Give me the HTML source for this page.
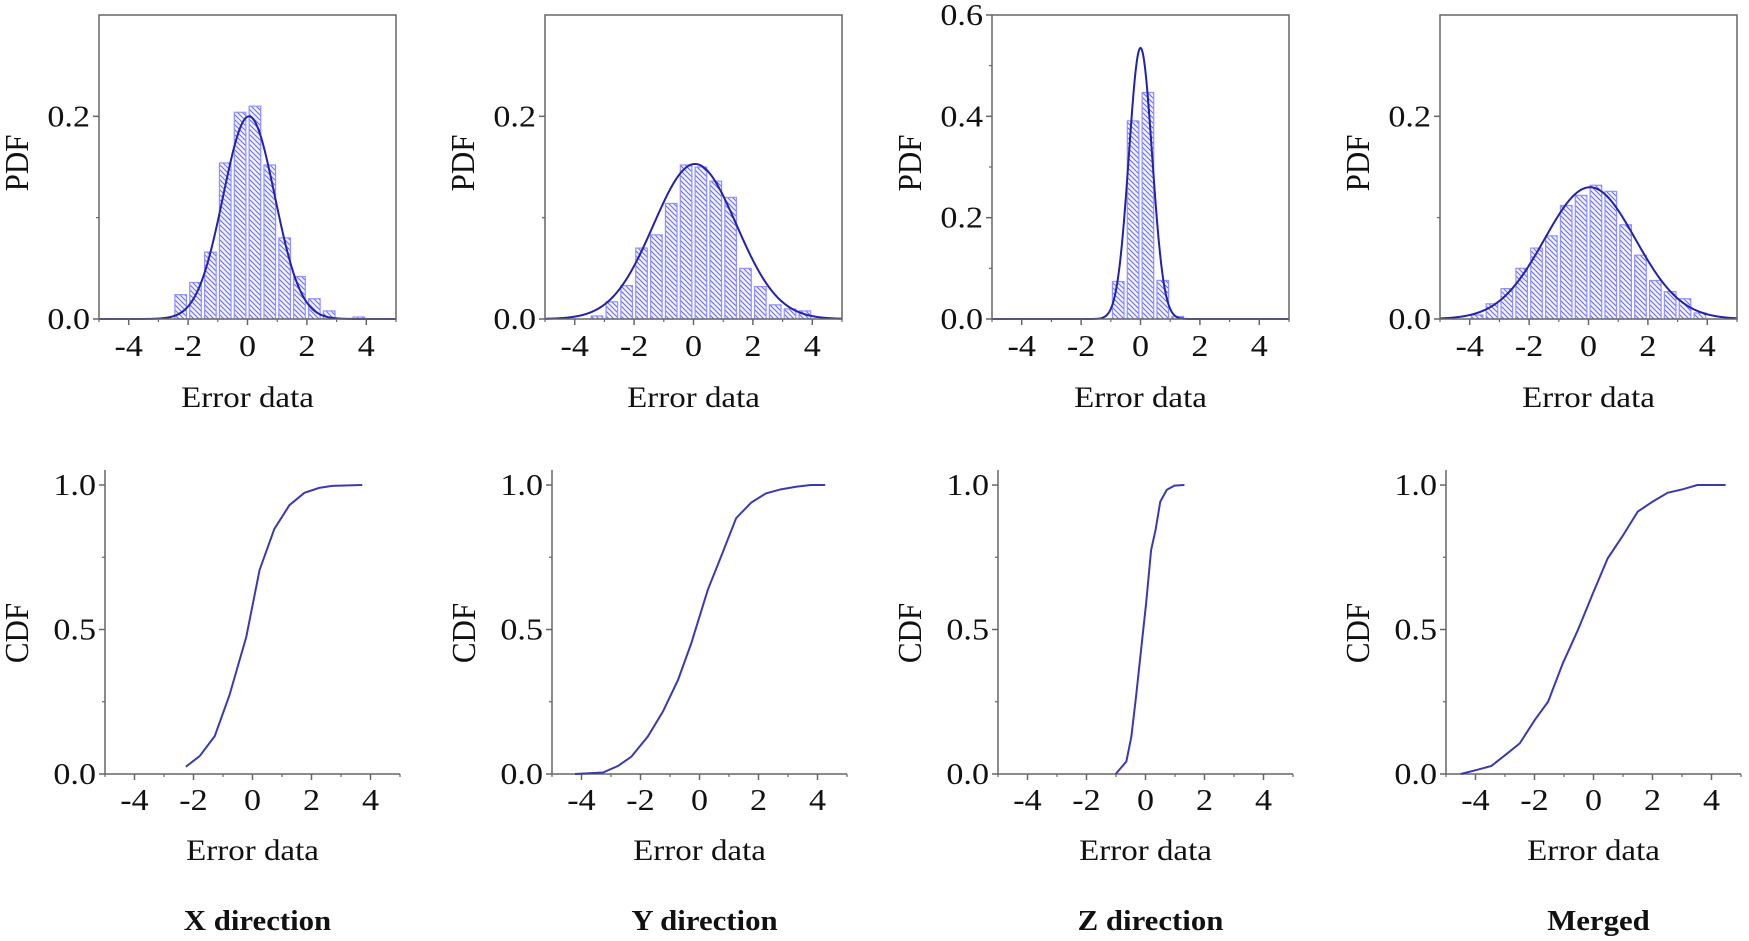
<!DOCTYPE html>
<html><head><meta charset="utf-8"><title>Error PDF/CDF</title>
<style>
html,body{margin:0;padding:0;background:#fff;}
svg{display:block;}
svg text{font-family:"Liberation Serif","Times New Roman",serif;fill:#111;}
</style></head>
<body>
<svg id="fig" width="1749" height="941" viewBox="0 0 1749 941" xmlns="http://www.w3.org/2000/svg">
<defs>
<pattern id="hatch" patternUnits="userSpaceOnUse" width="5" height="5">
<rect width="5" height="5" fill="#f4f4ff"/>
<path d="M-1,-1 L6,6 M-1,4 L1,6 M4,-1 L6,1" stroke="#6b6bff" stroke-width="1.1"/>
</pattern>
</defs>
</svg>
<script>
// ---- data ----
const panelTitles = ["X direction", "Y direction", "Z direction", "Merged"];
const binCenters = [-3.75,-3.25,-2.75,-2.25,-1.75,-1.25,-0.75,-0.25,0.25,0.75,1.25,1.75,2.25,2.75,3.25,3.75];
const pdfX = [0,0,0,0.024,0.036,0.066,0.154,0.204,0.210,0.152,0.080,0.042,0.020,0.008,0,0.002];
const pdfY = [0,0.003,0.017,0.033,0.070,0.083,0.114,0.152,0.150,0.136,0.120,0.050,0.032,0.014,0.010,0.008];
const pdfZ = [0,0,0,0,0,0,0.074,0.391,0.447,0.076,0.005,0,0,0,0,0];
const pdfM = [0.004,0.015,0.030,0.050,0.070,0.082,0.112,0.122,0.132,0.126,0.093,0.063,0.038,0.027,0.020,0.006];
const fitPeak = [0.200, 0.153, 0.535, 0.130];
const fitMean = [0.05, 0.05, 0.0, 0.05];
const fitSigma = [0.87, 1.40, 0.39, 1.53];
const pdfYMax = [0.3, 0.3, 0.6, 0.3];
const pdfYTicks = [[0,0.2],[0,0.2],[0,0.2,0.4,0.6],[0,0.2]];
const pdfYMinor = [[0.1],[0.1],[0.1,0.3,0.5],[0.1]];
const xTicks = [-4,-2,0,2,4];
const xMinor = [-5,-3,-1,1,3,5];
const cdfTicks = [0,0.5,1];
const cdfMinor = [0.25,0.75];
const cdfXX = [-2.26,-1.79,-1.28,-0.78,-0.21,0.24,0.74,1.25,1.76,2.26,2.7,3.72];
const cdfXV = [0.025,0.062,0.131,0.273,0.475,0.706,0.848,0.93,0.973,0.99,0.997,1.0];
const cdfYX = [-4.22,-3.27,-2.76,-2.31,-1.75,-1.24,-0.73,-0.28,0.28,0.73,1.24,1.75,2.25,2.76,3.27,3.77,4.26];
const cdfYV = [0,0.005,0.028,0.06,0.13,0.216,0.325,0.452,0.637,0.752,0.885,0.939,0.971,0.985,0.994,1.0,1.0];
const cdfZX = [-1.01,-0.65,-0.48,-0.32,-0.15,0.02,0.19,0.34,0.5,0.72,0.98,1.32];
const cdfZV = [0,0.043,0.129,0.268,0.43,0.59,0.775,0.844,0.942,0.983,0.998,1.0];
const cdfMX = [-4.5,-3.96,-3.46,-2.95,-2.5,-1.99,-1.54,-1.04,-0.53,-0.02,0.48,0.99,1.5,2.0,2.51,3.02,3.52,4.48];
const cdfMV = [0,0.014,0.028,0.069,0.106,0.187,0.25,0.383,0.498,0.625,0.746,0.824,0.908,0.942,0.973,0.985,1.0,1.0];

const pdfSeries = [pdfX, pdfY, pdfZ, pdfM];
const cdfXs = [cdfXX, cdfYX, cdfZX, cdfMX];
const cdfVs = [cdfXV, cdfYV, cdfZV, cdfMV];

// ---- layout ----
const NS = "http://www.w3.org/2000/svg";
const svg = document.getElementById('fig');
const pdfLeft = [99, 545, 992, 1440], PW = 297, pdfTop = 15, pdfBot = 319;
const cdfLeft = [105, 552, 998, 1446], CW = 295, cdfBot = 774, cdfOne = 485, cdfAxTop = 470;
const SX = 1.1;
const FONT = '"Liberation Serif", "Times New Roman", serif';

function el(tag, attrs, parent) {
  const e = document.createElementNS(NS, tag);
  for (const k in attrs) e.setAttribute(k, attrs[k]);
  (parent || svg).appendChild(e);
  return e;
}
function txt(str, x, y, size, anchor, parent, bold, rot) {
  const t = el('text', {'font-size': size, 'font-family': FONT, 'text-anchor': anchor || 'middle',
    transform: `translate(${x},${y}) ${rot ? 'rotate(-90) scale(1,' + SX + ')' : 'scale(' + SX + ',1)'}`}, parent);
  if (bold) t.setAttribute('font-weight', 'bold');
  t.textContent = str;
  return t;
}

for (let p = 0; p < 4; p++) {
  // ---------- PDF panel ----------
  const g = el('g', {});
  
  
  const L = pdfLeft[p];
  const xs = v => L + (v + 5) / 10 * PW;
  const ys = v => pdfBot - v / pdfYMax[p] * (pdfBot - pdfTop);
  const bars = el('g', {}, g);
  
  
  const bw = 0.39;
  pdfSeries[p].forEach((v, i) => {
    if (v <= 0) return;
    const r = el('rect', {x: xs(binCenters[i] - bw / 2), y: ys(v), width: xs(bw) - xs(0), height: pdfBot - ys(v),
      fill: 'url(#hatch)', stroke: '#9090ff', 'stroke-width': 1.2}, bars);
    
    
  });
  let d = '';
  for (let k = 0; k <= 400; k++) {
    const xv = -5 + k * 10 / 400;
    const yv = fitPeak[p] * Math.exp(-Math.pow(xv - fitMean[p], 2) / (2 * fitSigma[p] * fitSigma[p]));
    d += (k ? 'L' : 'M') + xs(xv).toFixed(2) + ',' + ys(yv).toFixed(2);
  }
  const c = el('path', {d: d, fill: 'none', stroke: '#2222aa', 'stroke-width': 2}, g);
  
  
  const fr = el('rect', {x: L, y: pdfTop, width: PW, height: pdfBot - pdfTop, fill: 'none', stroke: '#666', 'stroke-width': 1.5}, g);
  
  
  xTicks.forEach(v => {
    el('line', {x1: xs(v), x2: xs(v), y1: pdfBot, y2: pdfBot + 6, stroke: '#666', 'stroke-width': 1.5}, g);
    const t = txt(String(v), xs(v), 356, 31, 'middle', g);
    
    
  });
  xMinor.forEach(v => el('line', {x1: xs(v), x2: xs(v), y1: pdfBot, y2: pdfBot + 3, stroke: '#666', 'stroke-width': 1.2}, g));
  pdfYTicks[p].forEach(v => {
    el('line', {x1: L - 6, x2: L, y1: ys(v), y2: ys(v), stroke: '#666', 'stroke-width': 1.5}, g);
    const t = txt(v.toFixed(1), L - 9, ys(v) + 10, 31, 'end', g);
    
    
  });
  pdfYMinor[p].forEach(v => el('line', {x1: L - 3, x2: L, y1: ys(v), y2: ys(v), stroke: '#666', 'stroke-width': 1.2}, g));
  const xl = txt('Error data', L + PW / 2, 407, 30, 'middle', g);
  
  
  const yl = txt('PDF', L - 71, 163, 31, 'middle', g, false, true);
  
  

  // ---------- CDF panel ----------
  const h = el('g', {});
  
  
  const CL = cdfLeft[p];
  const cx = v => CL + (v + 5) / 10 * CW;
  const cy = v => cdfBot - v * (cdfBot - cdfOne);
  el('line', {x1: CL, x2: CL, y1: cdfAxTop, y2: cdfBot, stroke: '#666', 'stroke-width': 1.5}, h);
  el('line', {x1: CL, x2: CL + CW, y1: cdfBot, y2: cdfBot, stroke: '#666', 'stroke-width': 1.5}, h);
  xTicks.forEach(v => {
    el('line', {x1: cx(v), x2: cx(v), y1: cdfBot, y2: cdfBot + 6, stroke: '#666', 'stroke-width': 1.5}, h);
    const t = txt(String(v), cx(v), 810, 31, 'middle', h);
    
    
  });
  xMinor.forEach(v => el('line', {x1: cx(v), x2: cx(v), y1: cdfBot, y2: cdfBot + 3, stroke: '#666', 'stroke-width': 1.2}, h));
  cdfTicks.forEach(v => {
    el('line', {x1: CL - 6, x2: CL, y1: cy(v), y2: cy(v), stroke: '#666', 'stroke-width': 1.5}, h);
    const t = txt(v.toFixed(1), CL - 9, cy(v) + 10, 31, 'end', h);
    
    
  });
  cdfMinor.forEach(v => el('line', {x1: CL - 3, x2: CL, y1: cy(v), y2: cy(v), stroke: '#666', 'stroke-width': 1.2}, h));
  const pts = cdfXs[p].map((xv, i) => cx(xv).toFixed(2) + ',' + cy(cdfVs[p][i]).toFixed(2)).join(' ');
  const ln = el('polyline', {points: pts, fill: 'none', stroke: '#3a3ab0', 'stroke-width': 2}, h);
  
  
  const cxl = txt('Error data', CL + CW / 2, 860, 30, 'middle', h);
  
  
  const cyl = txt('CDF', CL - 77, 633, 31, 'middle', h, false, true);
  
  
  const tt = txt(panelTitles[p], cx(0) + 5, 930, 28, 'middle', h, true);
  
  
}
</script>
</body></html>
